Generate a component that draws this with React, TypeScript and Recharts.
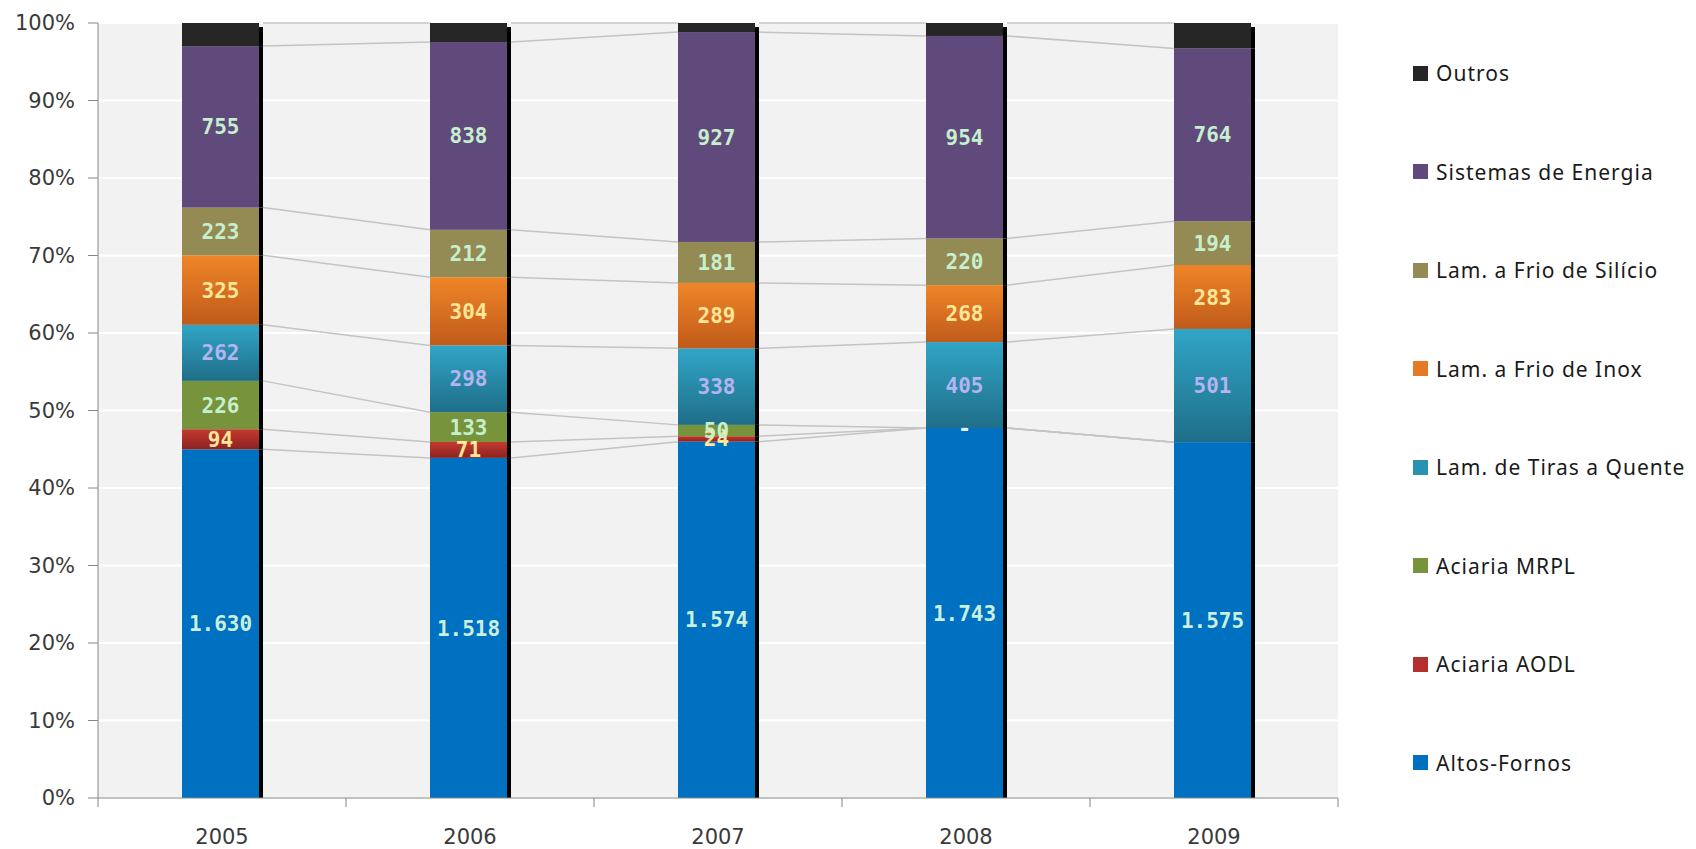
import { BarChart, Bar, XAxis, YAxis, CartesianGrid, LabelList } from "recharts";

// Consumo por área, 2005-2009 (valores absolutos, exibidos em 100% empilhado)
const years = ["2005", "2006", "2007", "2008", "2009"];
const altosFornos = [1630, 1518, 1574, 1743, 1575];
const aciariaAodl = [94, 71, 24, 0, null];
const aciariaMrpl = [226, 133, 50, 0, null];
const tirasQuente = [262, 298, 338, 405, 501];
const frioInox = [325, 304, 289, 268, 283];
const frioSilicio = [223, 212, 181, 220, 194];
const sistemasEnergia = [755, 838, 927, 954, 764];
const outros = [108, 85, 40, 61, 113];

const yTicks = [0, 0.1, 0.2, 0.3, 0.4, 0.5, 0.6, 0.7, 0.8, 0.9, 1];

// bottom to top
const series = [
  { key: "altos", name: "Altos-Fornos", values: altosFornos, fill: "#0070c0", swatch: "#0070c0", label: "#c8f0dc" },
  { key: "aodl", name: "Aciaria AODL", values: aciariaAodl, fill: "url(#gradAodl)", swatch: "#b3302c", label: "#ffe699" },
  { key: "mrpl", name: "Aciaria MRPL", values: aciariaMrpl, fill: "#77933c", swatch: "#77933c", label: "#c6efce" },
  { key: "tiras", name: "Lam. de Tiras a Quente", values: tirasQuente, fill: "url(#gradTiras)", swatch: "#2b91b2", label: "#b4b4f0" },
  { key: "inox", name: "Lam. a Frio de Inox", values: frioInox, fill: "url(#gradInox)", swatch: "#e47a24", label: "#ffe699" },
  { key: "silicio", name: "Lam. a Frio de Silício", values: frioSilicio, fill: "#948a54", swatch: "#948a54", label: "#c6efce" },
  { key: "energia", name: "Sistemas de Energia", values: sistemasEnergia, fill: "#604a7b", swatch: "#604a7b", label: "#c6efce" },
  { key: "outros", name: "Outros", values: outros, fill: "#262626", swatch: "#262626", label: "#ffffff" },
];

const rows = years.map((year, i) => {
  const row: Record<string, any> = { year };
  series.forEach((s) => (row[s.key] = s.values[i]));
  return row;
});

const totals = years.map((_, i) =>
  series.reduce((acc, s) => acc + (s.values[i] ?? 0), 0)
);

// cumulative share at the top of each series, per year
const cumShare = series.map((_, si) =>
  years.map((_, i) => {
    let sum = 0;
    for (let k = 0; k <= si; k++) sum += series[k].values[i] ?? 0;
    return sum / totals[i];
  })
);

const W = 1680;
const H = 841;
const MARGIN = { top: 15, right: 350, left: 0, bottom: 0 };
const Y_AXIS_W = 90;
const X_AXIS_H = 51;
const PLOT_TOP = MARGIN.top;
const PLOT_H = H - MARGIN.top - MARGIN.bottom - X_AXIS_H;
const STEP = (W - MARGIN.left - MARGIN.right - Y_AXIS_W) / years.length;
const SHADOW = 4;
const AXIS_GRAY = "#868686";

const fmt = (v: number) =>
  v.toString().replace(/\B(?=(\d{3})+(?!\d))/g, ".");

function Segment(props: any) {
  const { x, y, width, height, fill, index, background, seriesIndex } = props;
  if (x == null || y == null) return null;
  const top = background?.y ?? PLOT_TOP;
  const h = background?.height ?? PLOT_H;
  const yAt = (f: number) => top + h * (1 - f);
  const isTop = seriesIndex === series.length - 1;
  const w = width - SHADOW;
  const hasNext = index < years.length - 1;
  return (
    <g>
      {height > 0 && (
        <rect
          x={x + w}
          y={y + (isTop ? 4 : 0)}
          width={SHADOW}
          height={Math.max(0, height - (isTop ? 4 : 0))}
          fill="#000"
        />
      )}
      {height > 0 && <rect x={x} y={y} width={w} height={height} fill={fill} />}
      {hasNext && (
        <line
          x1={x + width}
          y1={yAt(cumShare[seriesIndex][index])}
          x2={x + STEP}
          y2={yAt(cumShare[seriesIndex][index + 1])}
          stroke="#c4c4c4"
          strokeWidth={1.5}
        />
      )}
    </g>
  );
}

const makeLabel = (si: number) => (props: any) => {
  const { x, y, width, height, index } = props;
  const s = series[si];
  const v = s.values[index];
  if (v == null || x == null) return null;
  return (
    <text
      x={x + (width - SHADOW) / 2}
      y={y + height / 2}
      dy="0.36em"
      textAnchor="middle"
      fill={v === 0 ? "#e6f2ff" : s.label}
      fontFamily="DejaVu Sans Mono"
      fontWeight="bold"
      fontSize={21}
    >
      {v === 0 ? "-" : fmt(v)}
    </text>
  );
};

function YearTick(props: any) {
  const { x, y, payload, index } = props;
  const half = STEP / 2;
  return (
    <g>
      <line x1={x - half} y1={y} x2={x - half} y2={y + 9} stroke={AXIS_GRAY} />
      {index === years.length - 1 && (
        <line x1={x + half} y1={y} x2={x + half} y2={y + 9} stroke={AXIS_GRAY} />
      )}
      <text
        x={x}
        y={y + 38}
        dy="0.36em"
        textAnchor="middle"
        fill="#3a3a3a"
        fontFamily="DejaVu Sans"
        fontSize={21}
      >
        {payload.value}
      </text>
    </g>
  );
}

function SideLegend() {
  const items = [...series].reverse();
  return (
    <div style={{ position: "absolute", left: 1405, top: 0, width: 275, height: H }}>
      {items.map((s, i) => {
        const cy = 65 + i * 98.5;
        return (
          <div key={s.key} style={{ position: "absolute", left: 0, top: cy - 8, height: 16, display: "flex", alignItems: "center", whiteSpace: "nowrap" }}>
            <span style={{ display: "inline-block", width: 15, height: 15, background: s.swatch, marginRight: 8 }} />
            <span style={{ fontFamily: "Noto Sans", fontSize: 21, letterSpacing: 1.0, color: "#1a1a1a" }}>{s.name}</span>
          </div>
        );
      })}
    </div>
  );
}

export default function App() {
  return (
    <div style={{ position: "relative", width: W, height: H }}>
      <BarChart width={W} height={H} data={rows} stackOffset="expand" margin={MARGIN} barSize={81}>
        <defs>
          <linearGradient id="gradTiras" x1="0" y1="0" x2="0" y2="1">
            <stop offset="0%" stopColor="#31a5c6" />
            <stop offset="100%" stopColor="#1f6e89" />
          </linearGradient>
          <linearGradient id="gradInox" x1="0" y1="0" x2="0" y2="1">
            <stop offset="0%" stopColor="#f08527" />
            <stop offset="100%" stopColor="#bf5b1b" />
          </linearGradient>
          <linearGradient id="gradAodl" x1="0" y1="0" x2="0" y2="1">
            <stop offset="0%" stopColor="#c53a2f" />
            <stop offset="100%" stopColor="#8a2222" />
          </linearGradient>
        </defs>
        <CartesianGrid vertical={false} stroke="#ffffff" strokeWidth={2} fill="#f2f2f2" />
        <XAxis
          dataKey="year"
          height={X_AXIS_H}
          interval={0}
          tickLine={false}
          tickSize={0}
          tickMargin={0}
          axisLine={{ stroke: AXIS_GRAY }}
          tick={<YearTick />}
        />
        <YAxis
          type="number"
          domain={[0, 1]}
          ticks={yTicks}
          width={Y_AXIS_W}
          tickSize={10}
          tickMargin={13}
          tickFormatter={(v) => `${Math.round(v * 100)}%`}
          axisLine={{ stroke: AXIS_GRAY }}
          tickLine={{ stroke: AXIS_GRAY }}
          tick={{ fill: "#3a3a3a", fontFamily: "DejaVu Sans", fontSize: 21 }}
        />
        {series.map((s, si) => (
          <Bar
            key={s.key}
            dataKey={s.key}
            name={s.name}
            stackId="total"
            fill={s.fill}
            isAnimationActive={false}
            shape={(p: any) => <Segment {...p} seriesIndex={si} />}
          >
            {si < series.length - 1 && (
              <LabelList dataKey={s.key} content={makeLabel(si)} />
            )}
          </Bar>
        ))}
      </BarChart>
      <SideLegend />
    </div>
  );
}
